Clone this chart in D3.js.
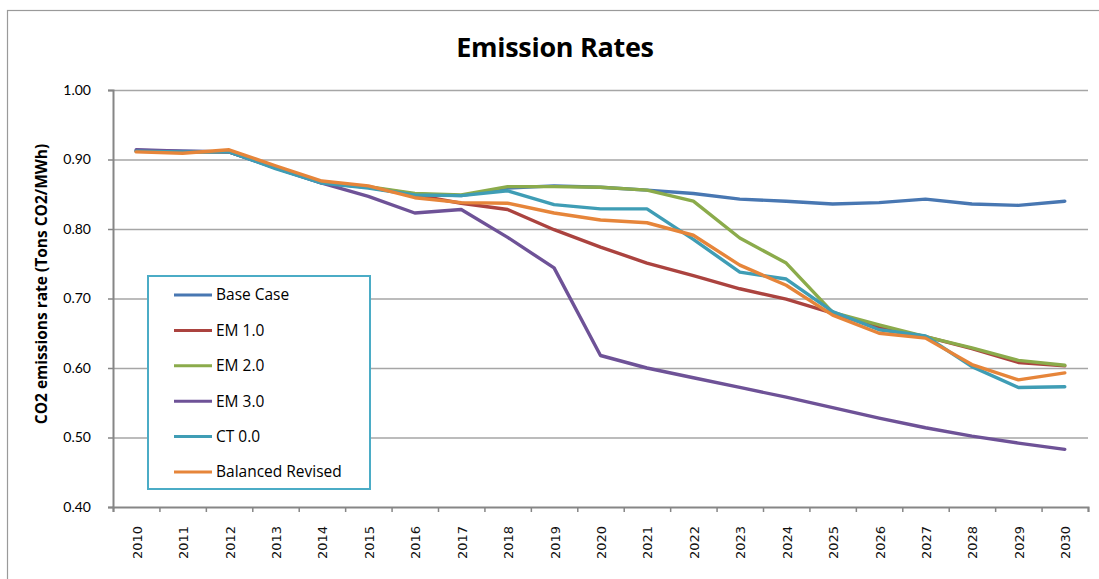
<!DOCTYPE html>
<html>
<head>
<meta charset="utf-8">
<script src="https://cdn.jsdelivr.net/npm/d3@7/dist/d3.min.js"></script>
<style>
  html, body { margin: 0; padding: 0; background: #fff; }
  svg { display: block; }
</style>
</head>
<body>
<svg id="chart" width="1099" height="579"></svg>
<script>
// Categories (years)
const years = ["2010","2011","2012","2013","2014","2015","2016","2017","2018","2019","2020",
               "2021","2022","2023","2024","2025","2026","2027","2028","2029","2030"];

// Emission rate by scenario (tons CO2 / MWh)
const baseCase        = [0.913,0.912,0.911,0.888,0.866,0.860,0.850,0.848,0.859,0.862,0.860,0.856,0.851,0.843,0.840,0.836,0.838,0.843,0.836,0.834,0.840];
const em10            = [0.912,0.911,0.911,0.889,0.867,0.860,0.849,0.837,0.828,0.799,0.774,0.751,0.733,0.714,0.699,0.679,0.658,0.645,0.628,0.608,0.603];
const em20            = [0.912,0.911,0.911,0.889,0.867,0.861,0.851,0.849,0.861,0.861,0.860,0.856,0.840,0.787,0.751,0.680,0.662,0.645,0.629,0.611,0.604];
const em30            = [0.914,0.912,0.911,0.888,0.866,0.847,0.823,0.828,0.788,0.744,0.618,0.600,0.586,0.572,0.558,0.543,0.528,0.514,0.502,0.492,0.483];
const ct00            = [0.912,0.911,0.911,0.887,0.866,0.859,0.849,0.848,0.855,0.835,0.829,0.829,0.785,0.738,0.728,0.681,0.655,0.646,0.602,0.572,0.573];
const balancedRevised = [0.911,0.909,0.914,0.891,0.869,0.862,0.845,0.838,0.837,0.823,0.813,0.809,0.791,0.748,0.719,0.676,0.650,0.643,0.605,0.583,0.593];

const seriesNames  = ["Base Case","EM 1.0","EM 2.0","EM 3.0","CT 0.0","Balanced Revised"];
const seriesValues = [baseCase, em10, em20, em30, ct00, balancedRevised];
const seriesColors = ["#4877b2","#ab433f","#8bab4b","#6e5297","#3f9db5","#e6853a"];

// Y axis tick values
const yTicks = [0.40,0.50,0.60,0.70,0.80,0.90,1.00];

const svg = d3.select("#chart");
const plotLeft = 113, plotRight = 1088, plotTop = 90, plotBottom = 507;

// Outer chart border
svg.append("rect")
  .attr("x", 7.5).attr("y", 10.5)
  .attr("width", 1110).attr("height", 600)
  .attr("fill", "#fff").attr("stroke", "#9a9a9a").attr("stroke-width", 1.2);

const x = d3.scaleBand().domain(years).range([plotLeft, plotRight]).padding(0);
const xEdges = d3.scaleLinear().domain([0, years.length]).range([plotLeft, plotRight]);
const y = d3.scaleLinear().domain([0.4, 1.0]).range([plotBottom, plotTop]);

// Horizontal gridlines
svg.append("g")
  .attr("transform", `translate(${plotLeft},0)`)
  .call(d3.axisLeft(y).tickValues(yTicks.filter(v => v > 0.4)).tickSize(-(plotRight - plotLeft)).tickFormat(""))
  .call(g => g.select(".domain").remove())
  .call(g => g.selectAll("line").attr("stroke", "#a6a6a6").attr("stroke-width", 1.5));

// Y axis
svg.append("g")
  .attr("transform", `translate(${plotLeft},0)`)
  .call(d3.axisLeft(y).tickValues(yTicks).tickSize(5).tickPadding(17).tickFormat(d3.format(".2f")))
  .call(g => g.select(".domain").attr("stroke", "#868686").attr("stroke-width", 2))
  .call(g => g.selectAll("line").attr("stroke", "#868686").attr("stroke-width", 1.5))
  .call(g => g.selectAll("text")
     .attr("font-family", "Lato, 'Open Sans', sans-serif")
     .attr("font-size", "14px").attr("fill", "#000"));

// X axis (ticks between categories)
svg.append("g")
  .attr("transform", `translate(0,${plotBottom})`)
  .call(d3.axisBottom(xEdges).tickValues(d3.range(years.length + 1)).tickSize(5).tickFormat(""))
  .call(g => g.select(".domain").attr("stroke", "#868686").attr("stroke-width", 2))
  .call(g => g.selectAll("line").attr("stroke", "#868686").attr("stroke-width", 1.5));

// Rotated year labels
svg.append("g")
  .selectAll("text")
  .data(years)
  .join("text")
  .attr("transform", d => `translate(${x(d) + x.bandwidth() / 2 + 1},526) rotate(-90)`)
  .attr("text-anchor", "end")
  .attr("dy", "0.35em")
  .attr("font-family", "'DejaVu Sans', Verdana, sans-serif")
  .attr("font-size", "13px")
  .attr("fill", "#111")
  .text(d => d);

// Series lines
const line = d3.line()
  .x((d, i) => x(years[i]) + x.bandwidth() / 2)
  .y(d => y(d));

svg.append("g")
  .selectAll("path")
  .data(seriesValues)
  .join("path")
  .attr("d", d => line(d))
  .attr("fill", "none")
  .attr("stroke", (d, i) => seriesColors[i])
  .attr("stroke-width", 3.4)
  .attr("stroke-linejoin", "round")
  .attr("stroke-linecap", "round");

// Title
svg.append("text")
  .attr("x", 555).attr("y", 57)
  .attr("text-anchor", "middle")
  .attr("font-family", "'Open Sans', Lato, sans-serif")
  .attr("font-weight", "bold")
  .attr("font-size", "27px")
  .attr("letter-spacing", "-0.3px")
  .attr("fill", "#000")
  .text("Emission Rates");

// Y axis title
svg.append("text")
  .attr("transform", "translate(42,284) rotate(-90)")
  .attr("text-anchor", "middle")
  .attr("dy", "0.35em")
  .attr("font-family", "'Open Sans', Lato, sans-serif")
  .attr("font-weight", "bold")
  .attr("font-size", "15.5px")
  .attr("fill", "#000")
  .text("CO2 emissions rate (Tons CO2/MWh)");

// Legend
const legend = svg.append("g");
legend.append("rect")
  .attr("x", 148).attr("y", 276)
  .attr("width", 222).attr("height", 213)
  .attr("fill", "#fff")
  .attr("stroke", "#4bacc6").attr("stroke-width", 2);

const legendY = d3.scalePoint().domain(seriesNames).range([295, 472]);
const items = legend.selectAll("g.item")
  .data(seriesNames)
  .join("g").attr("class", "item")
  .attr("transform", d => `translate(0,${legendY(d)})`);
items.append("line")
  .attr("x1", 174).attr("x2", 212)
  .attr("stroke", (d, i) => seriesColors[i])
  .attr("stroke-width", 3);
items.append("text")
  .attr("x", 216).attr("dy", "0.35em")
  .attr("font-family", "'Open Sans', Lato, sans-serif")
  .attr("font-size", "15.5px")
  .attr("fill", "#000")
  .text(d => d);
</script>
</body>
</html>
